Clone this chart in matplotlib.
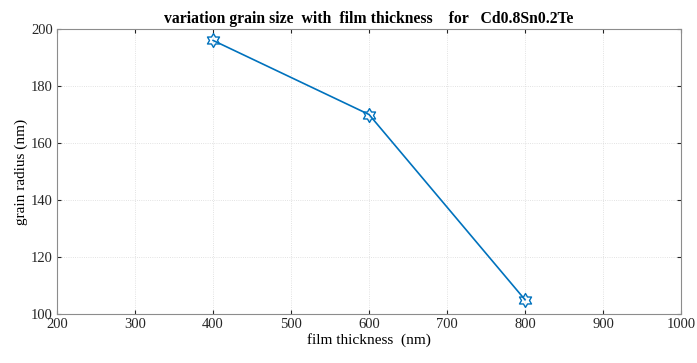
import numpy as np
import matplotlib.pyplot as plt
from matplotlib.path import Path

# grain size vs film thickness, Cd0.8Sn0.2Te
thickness = [400, 600, 800]
grain_radius = [196, 170, 105]
x_ticks = [200, 300, 400, 500, 600, 700, 800, 900, 1000]
y_ticks = [100, 120, 140, 160, 180, 200]

plt.rcParams['font.family'] = ['Liberation Serif', 'DejaVu Serif']

# six-pointed star marker (hexagram)
ang = np.deg2rad(np.arange(12) * 30 + 90)
rad = np.where(np.arange(12) % 2 == 0, 1.0, 1 / np.sqrt(3))
verts = np.column_stack([rad * np.cos(ang), rad * np.sin(ang)])
verts = np.vstack([verts, verts[:1]])
hexagram = Path(verts, [Path.MOVETO] + [Path.LINETO] * 11 + [Path.CLOSEPOLY])

fig = plt.figure(figsize=(6.97, 3.63), dpi=100)
ax = fig.add_axes([0.082, 0.135, 0.895, 0.785])

blue = (0, 0.447, 0.741)
ax.plot(thickness, grain_radius, color=blue, linewidth=1.2,
        marker=hexagram, markersize=10, markerfacecolor='none', markeredgewidth=1.0)

ax.set_xlim(200, 1000)
ax.set_ylim(100, 200)
ax.set_xticks(x_ticks)
ax.set_yticks(y_ticks)
ax.grid(True, color='#d9d9d9', linestyle=':', linewidth=0.6)
ax.tick_params(direction='in', length=3, labelsize=10.5, colors='#262626',
               top=True, right=True, pad=3)
for s in ax.spines.values():
    s.set_color('#8c8c8c')
    s.set_linewidth(0.8)

ax.set_title('variation grain size  with  film thickness    for   Cd0.8Sn0.2Te',
             fontsize=11.3, fontweight='bold', pad=4)
ax.set_xlabel('film thickness  (nm)', fontsize=11, labelpad=1)
ax.set_ylabel('grain radius (nm)', fontsize=11, labelpad=2)

fig.savefig('out.png', dpi=100)
